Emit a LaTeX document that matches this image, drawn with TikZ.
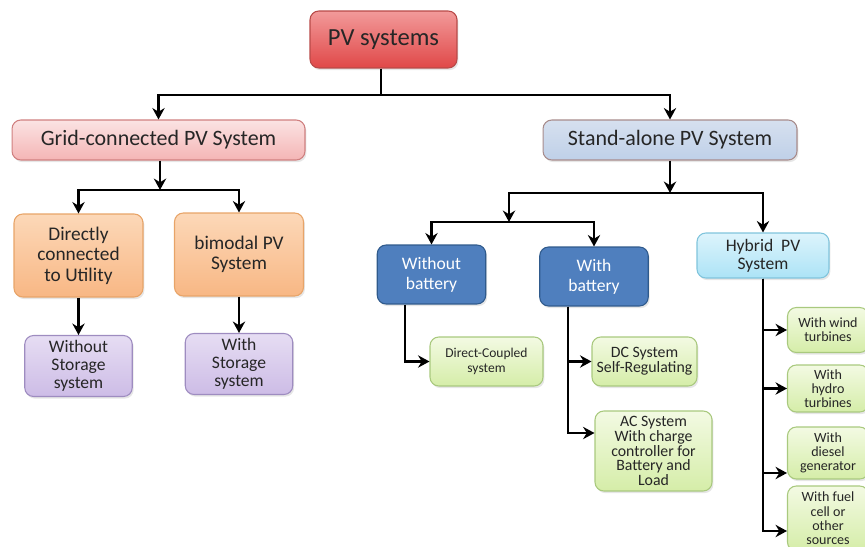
\documentclass[tikz,border=0pt]{standalone}
\usepackage{fontspec}
\setmainfont{Carlito}
\usetikzlibrary{arrows.meta,shadows}

\definecolor{pvtop}{HTML}{F29A9A}
\definecolor{pvbot}{HTML}{E04848}
\definecolor{pvline}{HTML}{B84A48}
\definecolor{gridtop}{HTML}{FBE3E3}
\definecolor{gridbot}{HTML}{F4B5B5}
\definecolor{gridline}{HTML}{D08080}
\definecolor{standtop}{HTML}{D6E0EF}
\definecolor{standbot}{HTML}{BFD0E8}
\definecolor{standline}{HTML}{A88C8C}
\definecolor{orangetop}{HTML}{FCD8B8}
\definecolor{orangebot}{HTML}{F8B784}
\definecolor{orangeline}{HTML}{E8A468}
\definecolor{purpletop}{HTML}{E6DDF3}
\definecolor{purplebot}{HTML}{CDBCE6}
\definecolor{purpleline}{HTML}{9E8CC0}
\definecolor{bluefill}{HTML}{4F7FBE}
\definecolor{blueline}{HTML}{2F5A8C}
\definecolor{hybridtop}{HTML}{DDF4FC}
\definecolor{hybridbot}{HTML}{ACE3F6}
\definecolor{hybridline}{HTML}{80C4DC}
\definecolor{greentop}{HTML}{F3FAE3}
\definecolor{greenbot}{HTML}{D5EDA8}
\definecolor{greenline}{HTML}{A9C97E}

\begin{document}
\begin{tikzpicture}[x=0.02cm, y=-0.02cm,
    box/.style={draw, rounded corners=5pt, line width=0.6pt, align=center, inner sep=1pt, text=black!85,
      drop shadow={opacity=0.2, shadow xshift=0.8pt, shadow yshift=-1.2pt}},
    topbox/.style={box, draw=pvline, top color=pvtop, bottom color=pvbot, minimum width=2.94cm, minimum height=1.14cm,
      font=\fontsize{14}{16}\selectfont},
    gridbox/.style={box, draw=gridline, top color=gridtop, bottom color=gridbot, minimum width=5.86cm, minimum height=0.8cm,
      font=\fontsize{12.5}{14}\selectfont},
    standbox/.style={box, draw=standline, top color=standtop, bottom color=standbot, minimum width=5.08cm, minimum height=0.8cm,
      font=\fontsize{12.5}{14}\selectfont},
    orangebox/.style={box, draw=orangeline, top color=orangetop, bottom color=orangebot, minimum width=2.58cm, minimum height=1.66cm,
      font=\fontsize{11}{11.7}\selectfont},
    purplebox/.style={box, draw=purpleline, top color=purpletop, bottom color=purplebot, minimum width=2.15cm, minimum height=1.22cm,
      font=\fontsize{10}{10.4}\selectfont},
    bluebox/.style={box, draw=blueline, fill=bluefill, text=white, minimum width=2.17cm, minimum height=1.18cm,
      font=\fontsize{10}{11.3}\selectfont},
    hybridbox/.style={box, draw=hybridline, top color=hybridtop, bottom color=hybridbot, minimum width=2.64cm, minimum height=0.9cm,
      font=\fontsize{10}{10.4}\selectfont},
    greenbox/.style={box, draw=greenline, top color=greentop, bottom color=greenbot, minimum width=2.1cm, minimum height=0.98cm,
      font=\fontsize{9}{8.3}\selectfont},
    sidebox/.style={box, draw=greenline, top color=greentop, bottom color=greenbot, minimum width=1.62cm, minimum height=0.9cm,
      font=\fontsize{8}{8.1}\selectfont},
    arr/.style={-{Stealth[length=6.5pt,width=7pt]}, line width=1.4pt},
    scale=1]
    \useasboundingbox (0,0) rectangle (865,547);

    \node[topbox] (pv) at (383.5,39.5) {PV systems};
    \node[gridbox] (grid) at (158.5,140) {Grid-connected PV System};
    \node[standbox] (stand) at (670,140) {Stand-alone PV System};

    \node[orangebox] (direct) at (78.5,255.5) {Directly\\connected\\to Utility};
    \node[orangebox] (bimodal) at (239,254.5) {bimodal PV\\System};
    \node[purplebox] (nostore) at (78.5,366) {Without\\Storage\\system};
    \node[purplebox] (store) at (239,364) {With\\Storage\\system};

    \node[bluebox] (nobatt) at (431.5,274.5) {Without\\battery};
    \node[bluebox] (batt) at (594,276.5) {With\\battery};
    \node[hybridbox] (hybrid) at (763,255.5) {Hybrid\ \ PV\\System};

    \node[greenbox, minimum width=2.26cm, font=\fontsize{7.7}{8.5}\selectfont] (coupled) at (486.5,361.5) {Direct-Coupled\\system};
    \node[greenbox] (dc) at (644.5,361.5) {DC System\\Self-Regulating};
    \node[greenbox, minimum width=2.34cm, minimum height=1.6cm] (ac) at (653.5,451) {AC System\\With charge\\controller for\\Battery and\\Load};

    \node[sidebox] (wind) at (828,330) {With wind\\turbines};
    \node[sidebox, minimum height=0.94cm] (hydro) at (828,388.5) {With\\hydro\\turbines};
    \node[sidebox, minimum height=1.04cm] (diesel) at (828,453) {With\\diesel\\generator};
    \node[sidebox, minimum height=1.3cm] (fuel) at (828,518.5) {With fuel\\cell or\\other\\sources};

    \coordinate (top) at (381,95);
    \coordinate (gsplit) at (160,190);
    \coordinate (ssplit) at (670,193);
    \coordinate (bsplit) at (509,222);

    \draw[arr] (pv.south -| top) -- (top) -| (grid.north);
    \draw[arr] (top) -| (stand.north);

    \draw[arr] (grid.south -| gsplit) -- (gsplit);
    \draw[arr] (gsplit) -| (direct.north);
    \draw[arr] (gsplit) -| (bimodal.north);
    \draw[arr] (direct.south) -- (nostore.north);
    \draw[arr] (bimodal.south) -- (store.north);

    \draw[arr] (stand.south) -- (ssplit);
    \draw[arr] (ssplit) -| (hybrid.north);
    \draw[arr] (ssplit) -| (bsplit);
    \draw[arr] (bsplit) -| (nobatt.north);
    \draw[arr] (bsplit) -| (batt.north);

    \draw[arr] ([xshift=-0.53cm]nobatt.south) |- (coupled.west);
    \draw[arr] ([xshift=-0.52cm]batt.south) |- (dc.west);
    \draw[arr] ([xshift=-0.52cm]batt.south) |- ([yshift=0.36cm]ac.west);

    \draw[arr] (hybrid.south) |- (wind.west);
    \draw[arr] (hybrid.south) |- (hydro.west);
    \draw[arr] (hybrid.south) |- ([yshift=-0.4cm]diesel.west);
    \draw[arr] (hybrid.south) |- ([yshift=-0.25cm]fuel.west);
  \end{tikzpicture}
\end{document}
